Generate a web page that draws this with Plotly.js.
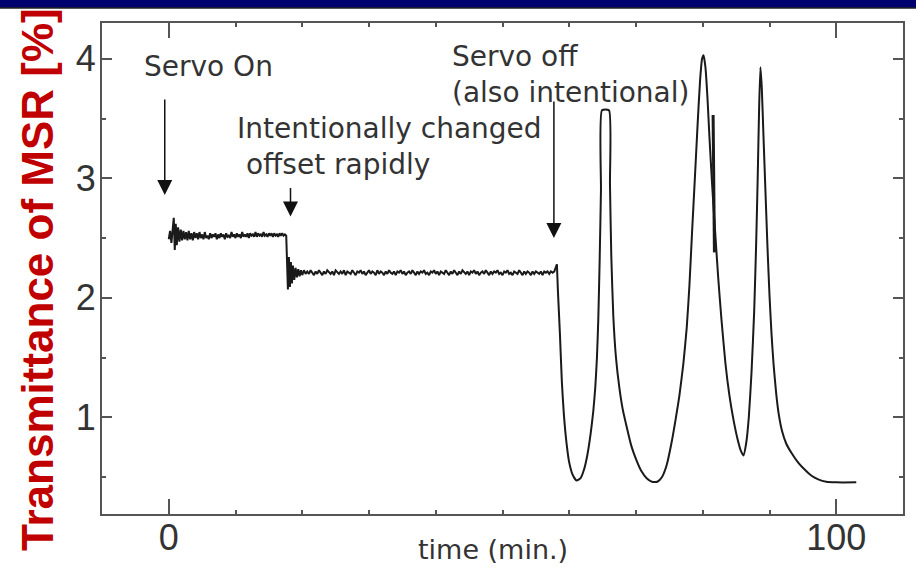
<!DOCTYPE html>
<html>
<head>
<meta charset="utf-8">
<script src="https://cdn.plot.ly/plotly-3.0.1.min.js"></script>
<style>
html,body{margin:0;padding:0;background:#fff;}
#chart{width:916px;height:574px;}
</style>
</head>
<body>
<div id="chart"></div>
<script>
// ---- Data (time in min., transmittance in %) ----
// Servo on, first lock point
var timeServoOn = [0.0,0.2,0.4,0.6,0.75,0.9,1.05,
  1.2,1.4,1.6,1.8,2.0,2.2,2.4,2.6,2.8,3.0,
  3.2,3.4,3.6,3.8,4.0,4.2,4.4,4.6,4.8,5.0,
  5.2,5.4,5.6,5.8,6.0,6.2,6.4,6.6,6.8,7.0,
  7.2,7.4,7.6,7.8,8.0,8.2,8.4,8.6,8.8,9.0,
  9.2,9.4,9.6,9.8,10.0,10.2,10.4,10.6,10.8,11.0,
  11.2,11.4,11.6,11.8,12.0,12.2,12.4,12.6,12.8,13.0,
  13.2,13.4,13.6,13.8,14.0,14.2,14.4,14.6,14.8,15.0,
  15.2,15.4,15.6,15.8,16.0,16.2,16.4,16.6,16.8,17.0,
  17.2,17.4,17.6];
var transServoOn = [2.49,2.56,2.46,2.58,2.67,2.40,2.62,
  2.44,2.59,2.47,2.57,2.48,2.56,2.49,2.55,2.48,2.56,
  2.49,2.54,2.48,2.55,2.50,2.54,2.49,2.55,2.50,2.53,
  2.49,2.55,2.50,2.52,2.49,2.54,2.50,2.53,2.51,2.54,
  2.49,2.53,2.50,2.54,2.51,2.53,2.49,2.54,2.51,2.52,
  2.50,2.55,2.51,2.53,2.50,2.54,2.51,2.53,2.50,2.55,
  2.51,2.53,2.51,2.54,2.50,2.54,2.52,2.53,2.51,2.55,
  2.51,2.54,2.52,2.53,2.51,2.55,2.52,2.53,2.51,2.54,
  2.52,2.54,2.51,2.54,2.52,2.53,2.51,2.54,2.52,2.54,
  2.52,2.53,2.52];
// Offset changed rapidly: ringing, then second lock point
var timeOffset = [17.75,17.85,18.0,18.15,18.3,18.45,18.6,18.8,19.0,19.2,19.4,19.6,19.8,
  20,20.25,20.5,20.75, 21,21.25,21.5,21.75, 22,22.25,22.5,22.75, 23,23.25,23.5,23.75,
  24,24.25,24.5,24.75, 25,25.25,25.5,25.75, 26,26.25,26.5,26.75, 27,27.25,27.5,27.75,
  28,28.25,28.5,28.75, 29,29.25,29.5,29.75, 30,30.25,30.5,30.75, 31,31.25,31.5,31.75,
  32,32.25,32.5,32.75, 33,33.25,33.5,33.75, 34,34.25,34.5,34.75, 35,35.25,35.5,35.75,
  36,36.25,36.5,36.75, 37,37.25,37.5,37.75, 38,38.25,38.5,38.75, 39,39.25,39.5,39.75,
  40,40.25,40.5,40.75, 41,41.25,41.5,41.75, 42,42.25,42.5,42.75, 43,43.25,43.5,43.75,
  44,44.25,44.5,44.75, 45,45.25,45.5,45.75, 46,46.25,46.5,46.75, 47,47.25,47.5,47.75,
  48,48.25,48.5,48.75, 49,49.25,49.5,49.75, 50,50.25,50.5,50.75, 51,51.25,51.5,51.75,
  52,52.25,52.5,52.75, 53,53.25,53.5,53.75, 54,54.25,54.5,54.75, 55,55.25,55.5,55.75,
  56,56.25,56.5,56.75, 57,57.25,57.5,57.75, 58.0,58.15];
var transOffset = [2.20,2.07,2.34,2.09,2.30,2.12,2.27,2.15,2.25,2.17,2.24,2.18,2.23,
  2.19,2.23,2.20,2.22, 2.20,2.23,2.21,2.19, 2.22,2.20,2.23,2.21, 2.19,2.22,2.20,2.23,
  2.21,2.20,2.22,2.19, 2.23,2.21,2.20,2.22, 2.20,2.23,2.19,2.22, 2.21,2.20,2.23,2.21,
  2.19,2.22,2.21,2.23, 2.20,2.22,2.19,2.21, 2.23,2.20,2.22,2.21, 2.19,2.23,2.20,2.22,
  2.21,2.19,2.22,2.20, 2.23,2.21,2.20,2.22, 2.19,2.22,2.21,2.23, 2.20,2.22,2.19,2.21,
  2.22,2.20,2.23,2.21, 2.19,2.22,2.20,2.22, 2.21,2.23,2.20,2.21, 2.19,2.22,2.21,2.23,
  2.20,2.22,2.19,2.22, 2.21,2.20,2.23,2.21, 2.19,2.22,2.20,2.23, 2.21,2.19,2.22,2.20,
  2.23,2.21,2.20,2.22, 2.19,2.22,2.21,2.23, 2.20,2.22,2.19,2.21, 2.22,2.20,2.23,2.21,
  2.19,2.22,2.20,2.22, 2.21,2.23,2.20,2.21, 2.19,2.22,2.21,2.23, 2.20,2.21,2.19,2.22,
  2.21,2.20,2.23,2.21, 2.19,2.22,2.20,2.22, 2.21,2.19,2.22,2.20, 2.22,2.21,2.20,2.22,
  2.19,2.22,2.21,2.22, 2.20,2.22,2.21,2.22, 2.25,2.28];
// Servo off: free-running resonances (first peak saturates at 3.57)
var timeFree = [58.15,58.30,58.6,58.89,59.2,59.6,60.0,60.5,61.1,61.7,62.2,62.7,63.2,63.6,63.9,64.15,64.35,64.55,64.75,64.9,
  65.95,66.1,66.3,66.6,67.0,67.5,68.0,68.6,69.3,70.0,70.8,71.6,72.4,73.2,73.9,74.6,75.3,75.9,76.5,
  77.1,77.6,78.0,78.4,78.8,79.2,79.6,79.9,80.12,80.4,80.7,81.0,81.4,81.8,82.3,82.8,83.4,84.0,84.6,85.2,85.7,86.1,
  86.5,86.9,87.3,87.7,88.0,88.25,88.45,88.64,88.85,89.1,89.4,89.7,90.0,90.3,90.6,91.0,91.4,91.9,92.5,93.3,94.3,95.3,96.3,97.3,98.5,100.0,103.0];
var transFree = [2.28,2.06,1.70,1.30,1.02,0.78,0.62,0.52,0.47,0.49,0.56,0.68,0.86,1.05,1.25,1.50,1.82,2.30,2.90,3.57,
  3.57,2.95,2.35,1.85,1.50,1.25,1.07,0.92,0.76,0.65,0.55,0.49,0.46,0.46,0.50,0.60,0.78,0.97,1.18,
  1.45,1.75,2.10,2.55,2.98,3.42,3.82,4.00,4.03,3.93,3.68,3.35,2.95,2.60,2.18,1.82,1.45,1.18,0.98,0.82,0.72,0.68,
  0.78,1.00,1.37,1.88,2.45,3.05,3.60,3.93,3.75,3.35,2.88,2.42,2.02,1.70,1.45,1.20,1.02,0.88,0.78,0.70,0.62,0.56,0.51,0.48,0.46,0.455,0.455];
// Short glitch on the descending side of the second resonance
var timeGlitch = [81.55,81.75];
var transGlitch = [3.53,2.38];

var xTickVals = [0, 100];
var yTickVals = [1, 2, 3, 4];

var lineColor = '#1a1a1a';
var lockedTrace = {
  x: timeServoOn.concat(timeOffset), y: transServoOn.concat(transOffset),
  type: 'scatter', mode: 'lines', line: {color: lineColor, width: 2},
  hoverinfo: 'skip', showlegend: false
};
var freeTrace = {
  x: timeFree, y: transFree,
  type: 'scatter', mode: 'lines', line: {color: lineColor, width: 2, shape: 'spline', smoothing: 0.5},
  hoverinfo: 'skip', showlegend: false
};
var glitchTrace = {
  x: timeGlitch, y: transGlitch,
  type: 'scatter', mode: 'lines', line: {color: lineColor, width: 3},
  hoverinfo: 'skip', showlegend: false
};

var axisColor = '#555';
var fontFam = 'Liberation Sans, Arial, Helvetica, sans-serif';
var txtFam = 'DejaVu Sans, Liberation Sans, Arial, sans-serif';
var txt = {family: txtFam, size: 28, color: '#333'};

function label(text, x, y) {
  return {text: text, x: x, y: y, xref: 'x', yref: 'y', xanchor: 'left', yanchor: 'middle',
          align: 'left', showarrow: false, font: txt, borderpad: 0};
}
function arrow(x, y, ay) {
  return {text: '', x: x, y: y, xref: 'x', yref: 'y', ax: 0, ay: ay, showarrow: true,
          arrowhead: 2, arrowsize: 2, arrowwidth: 1.5, arrowcolor: '#111'};
}

var layout = {
  width: 916, height: 574,
  margin: {l: 102, r: 13, t: 23, b: 60},
  paper_bgcolor: '#fff', plot_bgcolor: '#fff',
  showlegend: false,
  font: {family: fontFam, color: '#333'},
  xaxis: {
    range: [-10, 110], tickmode: 'array', tickvals: xTickVals,
    ticks: 'inside', ticklen: 15, tickwidth: 2, tickcolor: axisColor,
    showline: true, linecolor: axisColor, linewidth: 2, mirror: 'ticks',
    showgrid: false, zeroline: false, ticklabelstandoff: -9,
    tickfont: {family: fontFam, size: 36, color: '#333'},
    minor: {tick0: 0, dtick: 10, ticks: 'inside', ticklen: 4, tickwidth: 2, tickcolor: axisColor, showgrid: false}
  },
  yaxis: {
    range: [0.19, 4.3], tickmode: 'array', tickvals: yTickVals,
    ticks: 'inside', ticklen: 10, tickwidth: 2, tickcolor: axisColor,
    showline: true, linecolor: axisColor, linewidth: 2, mirror: 'ticks',
    showgrid: false, zeroline: false, ticklabelstandoff: -3,
    tickfont: {family: fontFam, size: 36, color: '#333'},
    minor: {tick0: 0, dtick: 0.5, ticks: 'inside', ticklen: 4, tickwidth: 2, tickcolor: axisColor, showgrid: false}
  },
  shapes: [
    {type: 'rect', xref: 'paper', yref: 'paper', x0: -0.2, x1: 1.1, y0: 1 + 15/491, y1: 1 + 24/491,
     fillcolor: '#00006e', line: {width: 0}, layer: 'above'},
    {type: 'line', xref: 'paper', yref: 'paper', x0: -0.2, x1: 1.1, y0: 1 + 15/491, y1: 1 + 15/491,
     line: {color: '#222', width: 1.5}, layer: 'above'}
  ],
  annotations: [
    // axis titles
    {text: 'Transmittance of MSR [%]', xref: 'paper', yref: 'paper', x: -0.0799, y: 0.4766,
     xanchor: 'center', yanchor: 'middle', textangle: -90, showarrow: false,
     font: {family: fontFam, size: 44, color: '#c00000', weight: 'bold'}},
    {text: 'time (min.)', xref: 'paper', yref: 'paper', x: 0.488, y: -0.0713,
     xanchor: 'center', yanchor: 'middle', showarrow: false,
     font: {family: txtFam, size: 27, color: '#333'}},
    // in-plot notes
    label('Servo On', -3.9, 3.94),
    label('Intentionally changed<br>\u00a0offset rapidly', 10.0, 3.267),
    label('Servo off<br>(also intentional)', 42.35, 3.867),
    arrow(-0.6, 2.86, -97),
    arrow(18.24, 2.68, -30),
    arrow(57.7, 2.50, -138)
  ]
};

Plotly.newPlot('chart', [lockedTrace, freeTrace, glitchTrace], layout, {staticPlot: true, displayModeBar: false});
</script>
</body>
</html>
